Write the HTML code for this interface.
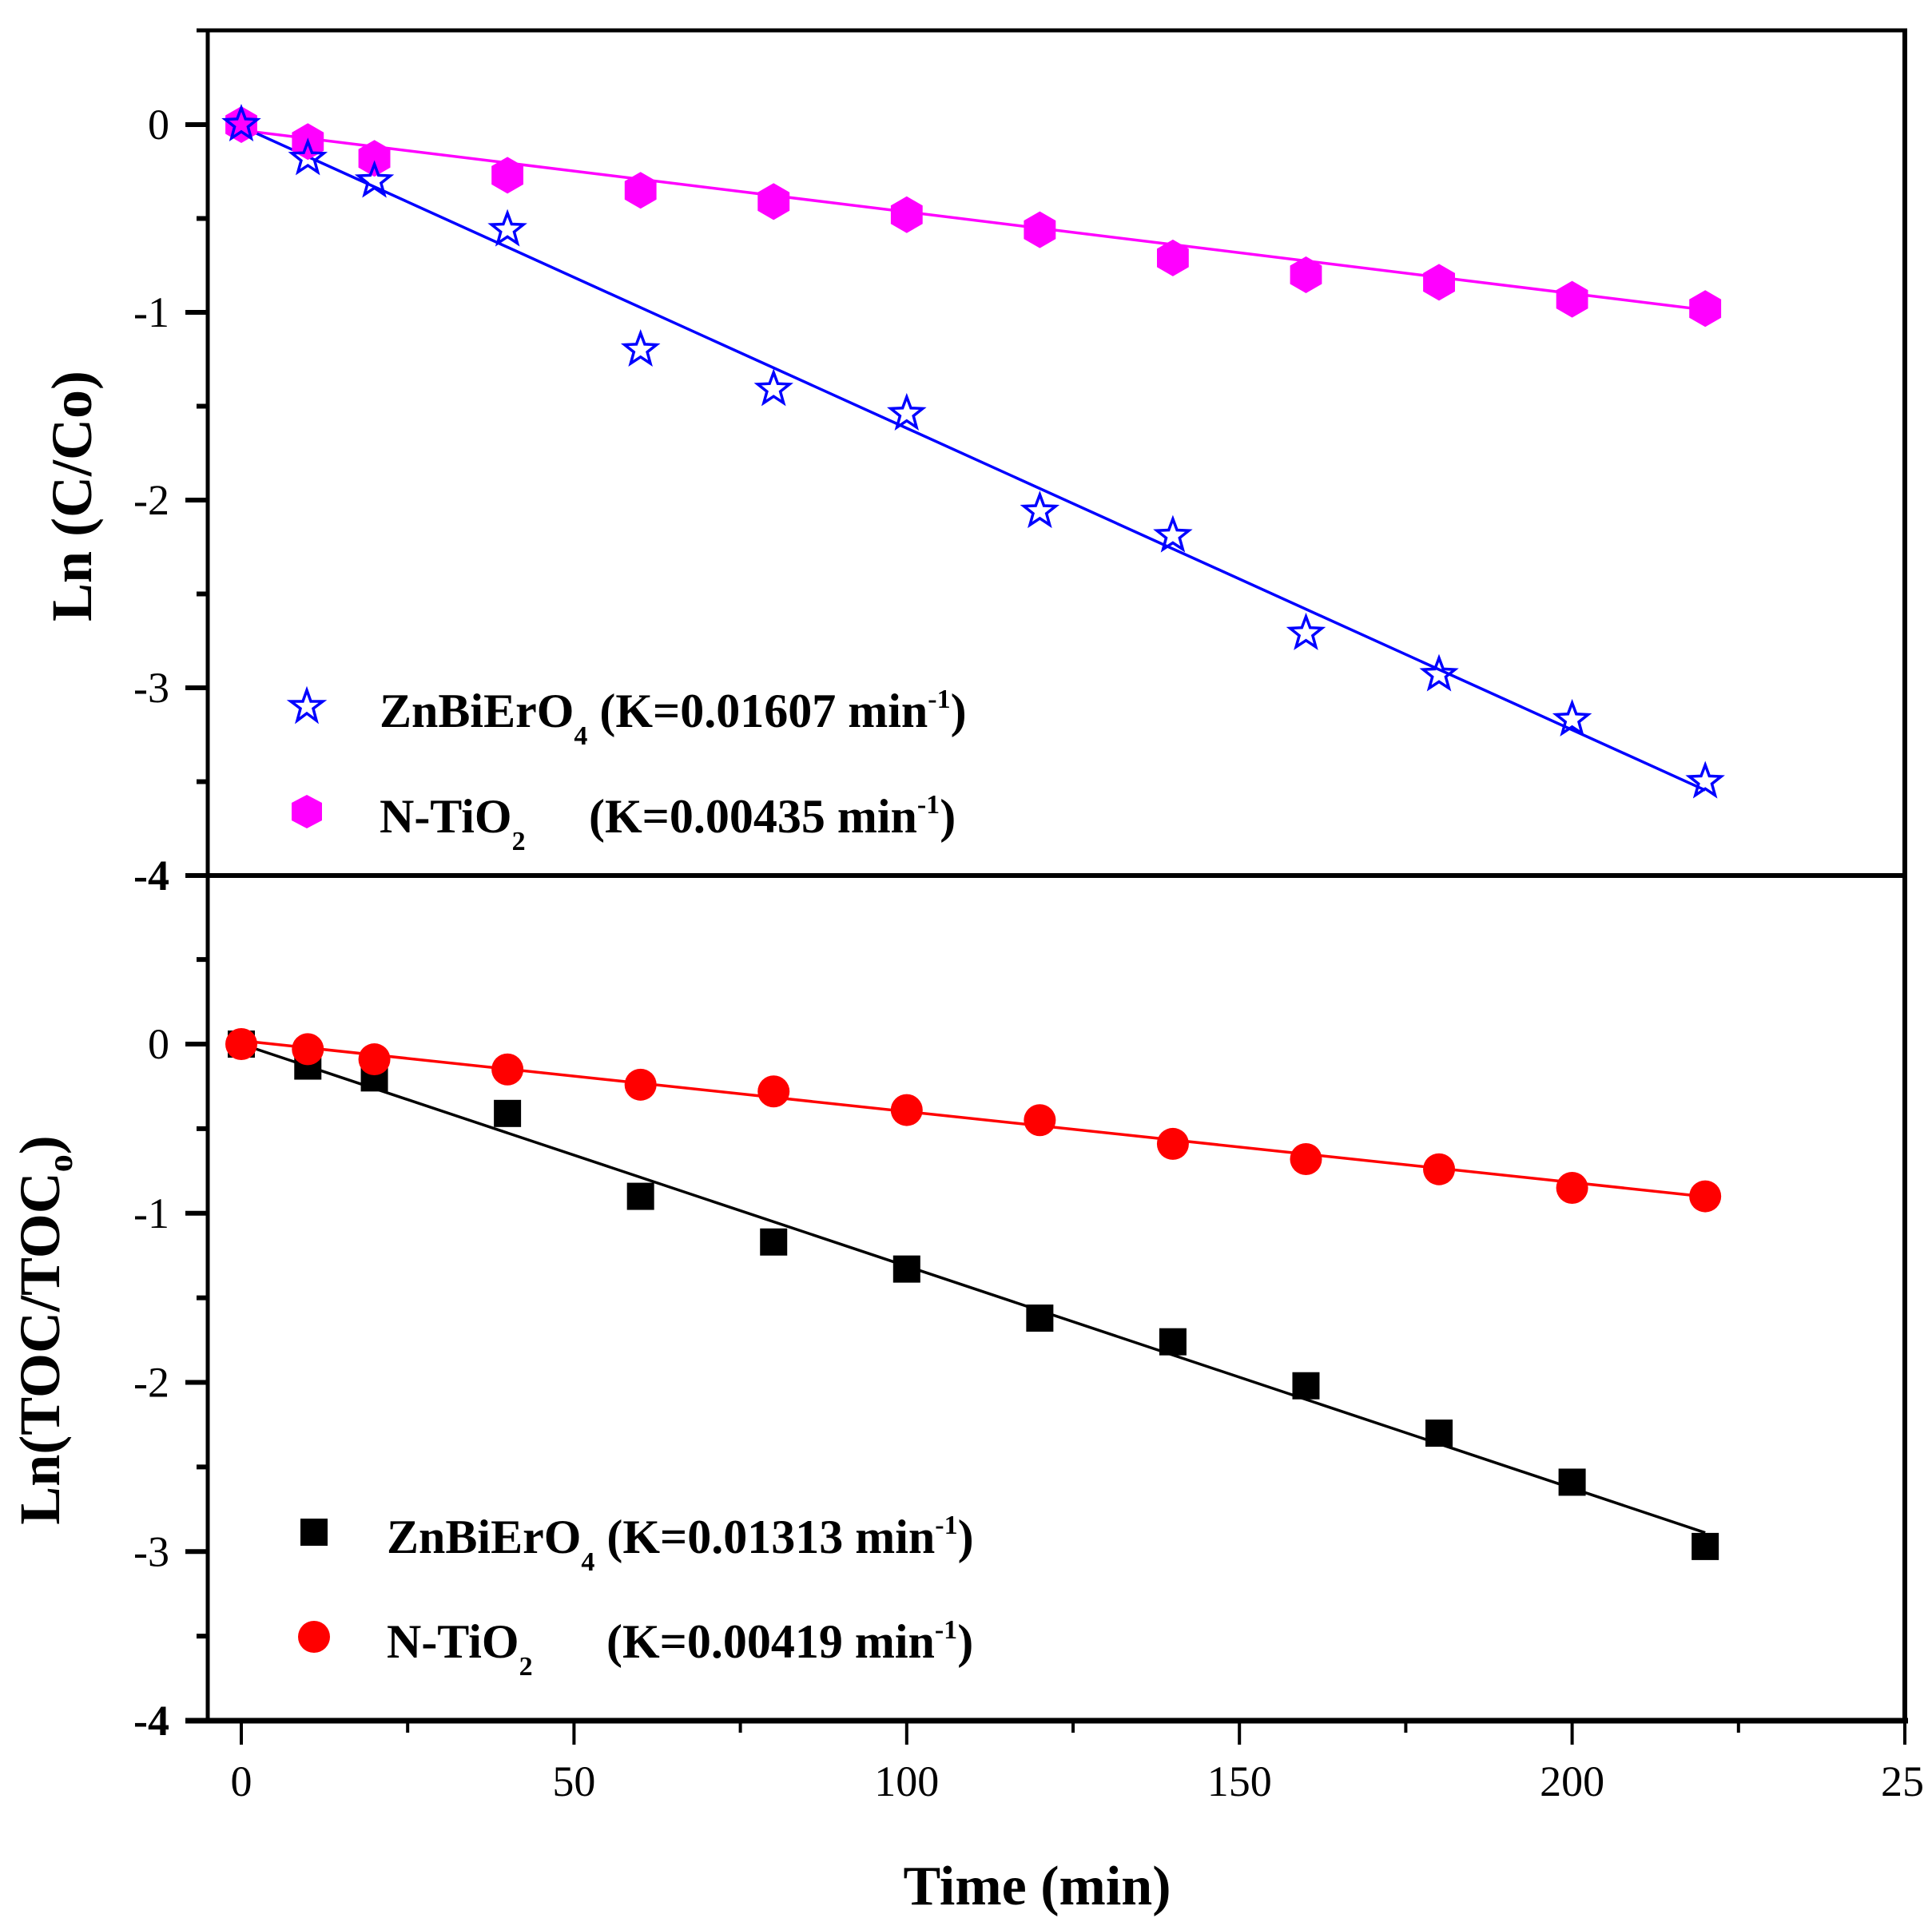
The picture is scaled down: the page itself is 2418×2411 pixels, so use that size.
<!DOCTYPE html>
<html><head><meta charset="utf-8"><style>
html,body{margin:0;padding:0;background:#fff;}
svg{display:block;font-family:"Liberation Serif",serif;}
</style></head><body>
<svg id="chart" width="2418" height="2411" viewBox="0 0 2418 2411" xmlns="http://www.w3.org/2000/svg">
<g id="axes"></g>
<g id="series"></g>
<text transform="translate(114,621) rotate(-90)" text-anchor="middle" font-size="72" font-weight="bold">Ln (C/Co)</text>
<text transform="translate(74,1665) rotate(-90)" text-anchor="middle" font-size="72" font-weight="bold">Ln(TOC/TOC<tspan font-size="44" dy="16">o</tspan><tspan dy="-16">)</tspan></text>
<text x="1298" y="2384" text-anchor="middle" font-size="70" font-weight="bold">Time (min)</text>
<g font-size="60" font-weight="bold">
<polygon fill="none" stroke="#00f" stroke-width="3.5" points="384,864 389,878 404,878 392,887 396,902 384,893 372,902 376,887 364,878 379,878"/>
<text x="475" y="910">ZnBiErO<tspan font-size="34" dy="22">4</tspan><tspan dy="-22"> (K=0.01607 min</tspan><tspan font-size="34" dy="-24">-1</tspan><tspan dy="24">)</tspan></text>
<polygon fill="#f0f" points="384,995 403,1005 403,1027 384,1037 365,1027 365,1005"/>
<text x="475" y="1042">N-TiO<tspan font-size="34" dy="22">2</tspan><tspan dy="-22" x="737">(K=0.00435 min</tspan><tspan font-size="34" dy="-24">-1</tspan><tspan dy="24">)</tspan></text>
</g>
<g font-size="60" font-weight="bold">
<rect x="376" y="1901" width="34" height="34" fill="#000"/>
<text x="484" y="1944">ZnBiErO<tspan font-size="34" dy="22">4</tspan><tspan dy="-22"> (K=0.01313 min</tspan><tspan font-size="34" dy="-24">-1</tspan><tspan dy="24">)</tspan></text>
<circle cx="393" cy="2049" r="20" fill="#f00"/>
<text x="484" y="2075">N-TiO<tspan font-size="34" dy="22">2</tspan><tspan dy="-22" x="759">(K=0.00419 min</tspan><tspan font-size="34" dy="-24">-1</tspan><tspan dy="24">)</tspan></text>
</g>
</svg>
<script>
const times = [0,10,20,40,60,80,100,120,140,160,180,200,220];
const ccZn = [0,-0.18,-0.30,-0.56,-1.20,-1.41,-1.54,-2.06,-2.19,-2.71,-2.93,-3.17,-3.50];
const ccTi = [0,-0.09,-0.18,-0.27,-0.35,-0.41,-0.48,-0.56,-0.71,-0.80,-0.84,-0.93,-0.98];
const tocZn = [0,-0.13,-0.20,-0.41,-0.90,-1.17,-1.33,-1.62,-1.76,-2.02,-2.30,-2.59,-2.97];
const tocTi = [0,-0.03,-0.09,-0.15,-0.24,-0.28,-0.39,-0.45,-0.59,-0.68,-0.74,-0.85,-0.90];
const fitSlopes = [-0.01607,-0.00435,-0.01313,-0.00419];
const fitIntercepts = [-0.01,-0.03,0.0,0.02];
const xTicks = [0,50,100,150,200,250];
const xTickLabels = ["0","50","100","150","200","25"];
const yTicks = [0,-1,-2,-3,-4];

const NS="http://www.w3.org/2000/svg";
const X0=302, XPX=2082/250;
const xs = t => X0 + t*XPX;
const yUp = v => 156 - v*235;
const yLo = v => 1307 - v*211.75;
function mk(tag, attrs, parent){const e=document.createElementNS(NS,tag);for(const k in attrs)e.setAttribute(k,attrs[k]);parent.appendChild(e);return e;}
const axes=document.getElementById('axes'), ser=document.getElementById('series');

let l;
l=mk('line',{x1:246,y1:38,x2:2387,y2:38,stroke:'#000','stroke-width':5},axes);
 
l=mk('line',{x1:260,y1:36,x2:260,y2:2157,stroke:'#000','stroke-width':5},axes);
 
l=mk('line',{x1:2384,y1:36,x2:2384,y2:2157,stroke:'#000','stroke-width':6},axes);
 
l=mk('line',{x1:232,y1:1096,x2:2387,y2:1096,stroke:'#000','stroke-width':6},axes);
 
l=mk('line',{x1:232,y1:2154,x2:2388,y2:2154,stroke:'#000','stroke-width':7},axes);
 

function yAxis(fn, minorVals, name){
  yTicks.forEach(v=>{
    const y=fn(v);
    const t=mk('line',{x1:232,y1:y,x2:260,y2:y,stroke:'#000','stroke-width':6},axes);
     
    const tx=mk('text',{x:212,y:y+18,'text-anchor':'end','font-size':54,'font-weight':v===-4?'bold':'normal'},axes);
    tx.textContent=String(v);
     
  });
  minorVals.forEach(v=>{
    const y=fn(v);
    const t=mk('line',{x1:246,y1:y,x2:260,y2:y,stroke:'#000','stroke-width':6},axes);
     
  });
}
yAxis(yUp,[-0.5,-1.5,-2.5,-3.5],'upper-y');
yAxis(yLo,[0.5,-0.5,-1.5,-2.5,-3.5],'lower-y');

xTicks.forEach((v,i)=>{
  const x=xs(v);
  const t=mk('line',{x1:x,y1:2154,x2:x,y2:2184,stroke:'#000','stroke-width':4},axes);
   
  const tx=mk('text',{x:x,y:2248,'text-anchor':i===xTicks.length-1?'start':'middle','font-size':54},axes);
  if(i===xTicks.length-1) tx.setAttribute('x', x-30);
  tx.textContent=xTickLabels[i];
   
  if(i<xTicks.length-1){
    const mx=xs(v+25);
    const m=mk('line',{x1:mx,y1:2154,x2:mx,y2:2169,stroke:'#000','stroke-width':4},axes);
     
  }
});

function fit(fn, k, color, name){
  const a=fitIntercepts[k], b=fitSlopes[k];
  const t0=times[0], t1=times[times.length-1];
  const ln=mk('line',{x1:xs(t0),y1:fn(a+b*t0),x2:xs(t1),y2:fn(a+b*t1),stroke:color,'stroke-width':3.5},ser);
   
}
fit(yUp,1,'#f0f','fit-line-ntio2-cc0');
fit(yUp,0,'#00f','fit-line-znbiero4-cc0');
fit(yLo,3,'#f00','fit-line-ntio2-toc');
fit(yLo,2,'#000','fit-line-znbiero4-toc');

function starPts(cx,cy,R){
  const r=R*0.42, p=[];
  for(let i=0;i<10;i++){const a=-Math.PI/2+i*Math.PI/5, rr=i%2?r:R; p.push((cx+rr*Math.cos(a)).toFixed(1)+','+(cy+rr*Math.sin(a)).toFixed(1));}
  return p.join(' ');
}
function hexPts(cx,cy,R){
  const p=[];
  for(let i=0;i<6;i++){const a=-Math.PI/2+i*Math.PI/3; p.push((cx+R*Math.cos(a)).toFixed(1)+','+(cy+R*Math.sin(a)).toFixed(1));}
  return p.join(' ');
}
times.forEach((t,i)=>{
  const x=xs(t);
  let e=mk('polygon',{points:hexPts(x,yUp(ccTi[i]),23),fill:'#f0f'},ser);
   
  e=mk('polygon',{points:starPts(x,yUp(ccZn[i]),21),fill:'none',stroke:'#00f','stroke-width':3.5},ser);
   
  e=mk('rect',{x:x-17,y:yLo(tocZn[i])-17,width:34,height:34,fill:'#000'},ser);
   
  e=mk('circle',{cx:x,cy:yLo(tocTi[i]),r:20,fill:'#f00'},ser);
   
});
</script>
</body></html>
